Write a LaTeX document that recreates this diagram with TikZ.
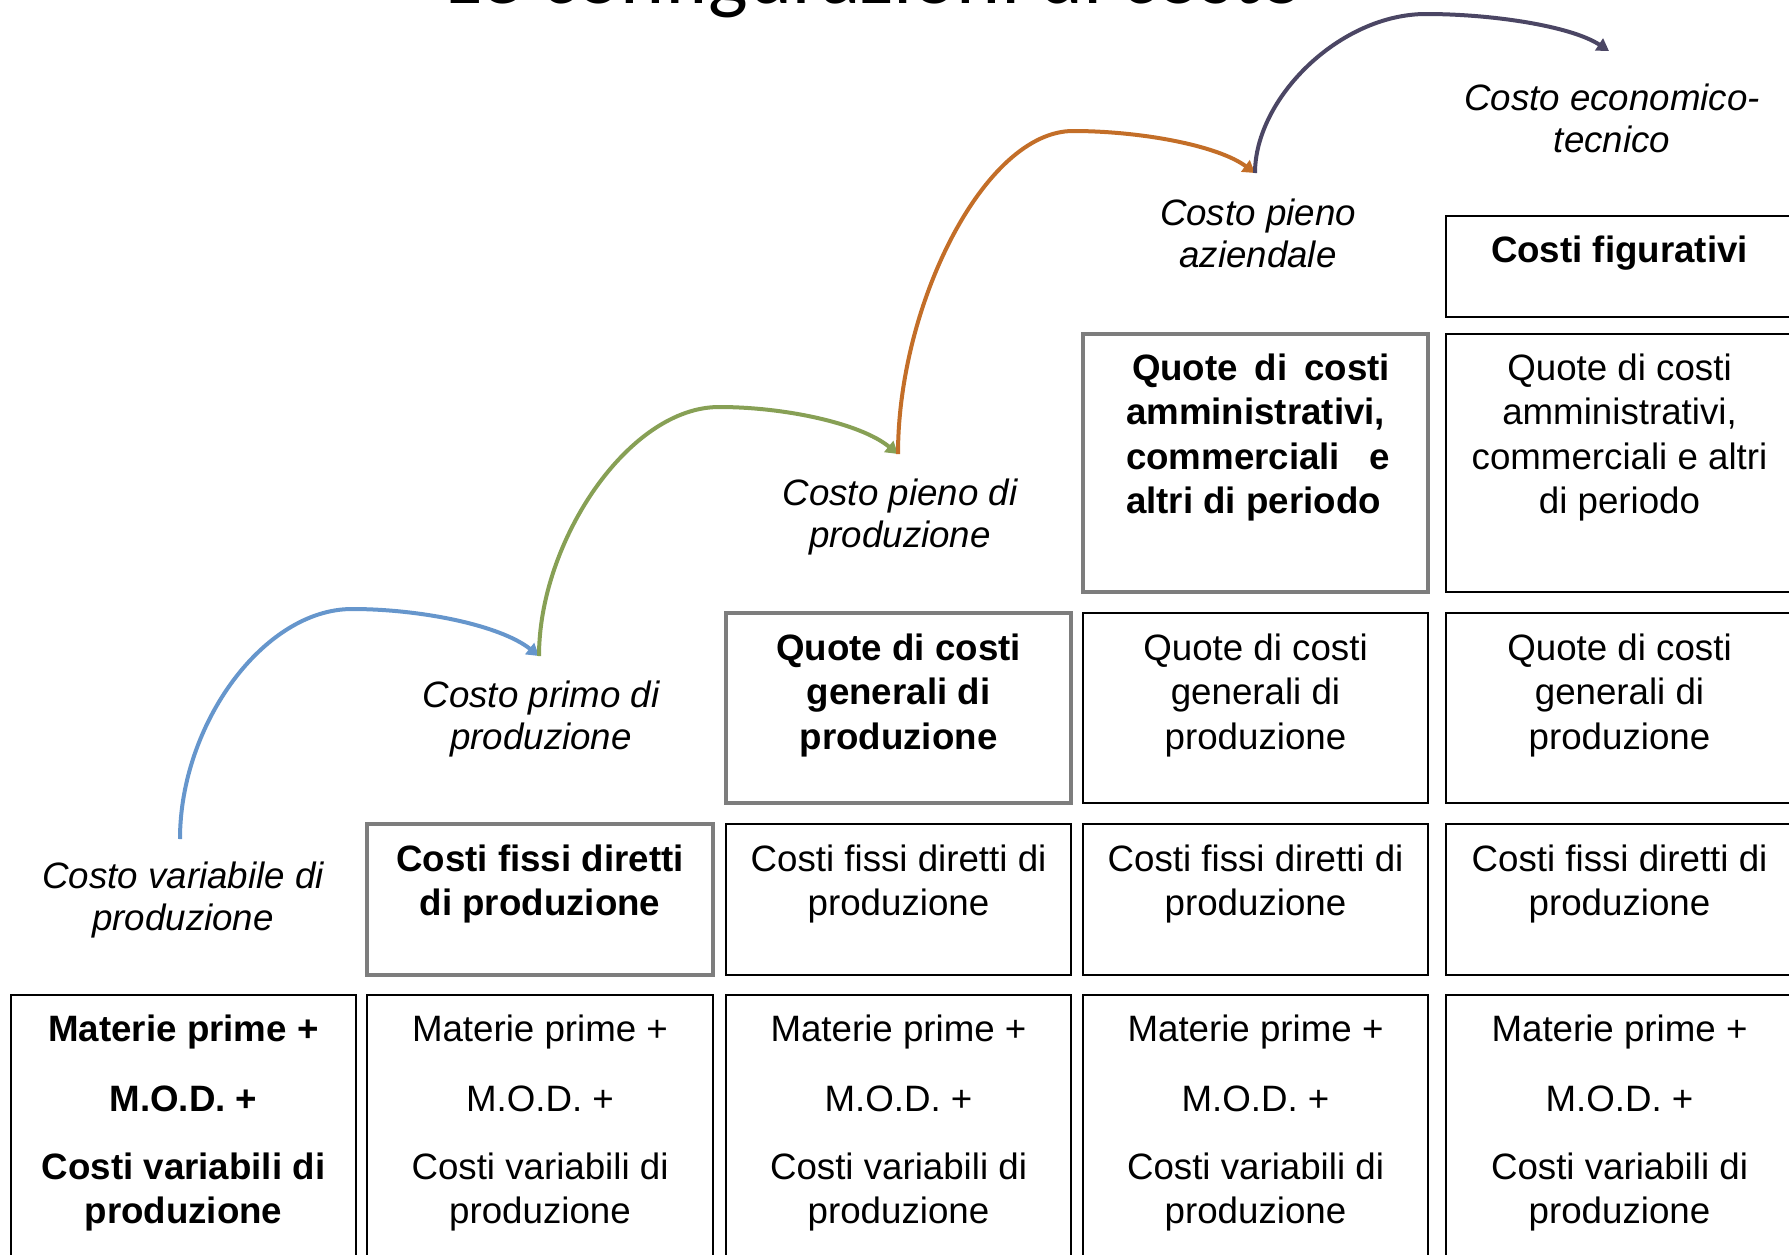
\documentclass[tikz,border=0pt]{standalone}
\usepackage{fontspec}
\setmainfont{Liberation Sans}
\newfontfamily\titlefont{Carlito}
\usetikzlibrary{arrows.meta}

\definecolor{stepblue}{RGB}{102,150,204}
\definecolor{stepgreen}{RGB}{135,160,85}
\definecolor{steporange}{RGB}{195,110,40}
\definecolor{steppurple}{RGB}{75,70,100}
\definecolor{newedge}{RGB}{125,125,125}

\tikzset{
  cell/.style={draw=black, line width=1.2pt, inner sep=0pt, outer sep=0pt},
  newcell/.style={draw=newedge, line width=1.6pt, inner sep=0pt, outer sep=0pt},
  celltext/.style={anchor=north, inner sep=0pt, align=center,
    font=\fontsize{18.35}{22.3}\selectfont},
  boldtext/.style={celltext, font=\fontsize{18.35}{22.3}\selectfont\bfseries},
  stagetext/.style={anchor=north, inner sep=0pt, align=center,
    font=\fontsize{18.35}{21}\selectfont\itshape},
  flow/.style={line width=2pt, -{Triangle[length=6pt,width=7pt]}},
}

% a framed cell given by its corners (x1,y1) and (x2,y2), in picture units
\newcommand\costcell[6]{%
  \pgfmathsetmacro\cellw{(#4-#2)*0.5}%
  \pgfmathsetmacro\cellh{(#5-#3)*0.5}%
  \node[#6, minimum width=\cellw pt, minimum height=\cellh pt]
    (#1) at ({(#2+#4)/2},{(#3+#5)/2}) {};}

\newcommand\matlines{Materie prime +\\[12.7pt]M.O.D. +\\[11.7pt]Costi variabili di\\produzione}

\begin{document}
\begin{tikzpicture}[x=0.5pt,y=-0.5pt]
\useasboundingbox (0,0) rectangle (1789,1254);
\clip (0,0) rectangle (1789,1254);

% title
\node[anchor=base, inner sep=0pt, font=\titlefont\fontsize{42}{50}\selectfont]
  (title) at (875,3) {Le configurazioni di costo};

% bottom row
\costcell{r1c1}{11}{995}{356}{1275}{cell}
\costcell{r1c2}{367}{995}{713}{1275}{cell}
\costcell{r1c3}{726}{995}{1071}{1275}{cell}
\costcell{r1c4}{1083}{995}{1428}{1275}{cell}
\costcell{r1c5}{1446}{995}{1793}{1275}{cell}
% fixed direct costs
\costcell{r2c2}{367}{824}{713}{975}{newcell}
\costcell{r2c3}{726}{824}{1071}{975}{cell}
\costcell{r2c4}{1083}{824}{1428}{975}{cell}
\costcell{r2c5}{1446}{824}{1793}{975}{cell}
% general production overheads
\costcell{r3c3}{726}{613}{1071}{803}{newcell}
\costcell{r3c4}{1083}{613}{1428}{803}{cell}
\costcell{r3c5}{1446}{613}{1793}{803}{cell}
% period costs
\costcell{r4c4}{1083}{334}{1428}{592}{newcell}
\costcell{r4c5}{1446}{334}{1793}{592}{cell}
% imputed costs
\costcell{r5c5}{1446}{216}{1793}{317}{cell}

% cell texts
\node[boldtext] (t11) at (183.5,1014) {\matlines};
\node[celltext] (t12) at (540,1014) {\matlines};
\node[celltext] (t13) at (898.5,1014) {\matlines};
\node[celltext] (t14) at (1255.5,1014) {\matlines};
\node[celltext] (t15) at (1619.5,1014) {\matlines};

\node[boldtext] (t22) at (540,844) {Costi fissi diretti\\di produzione};
\node[celltext] (t23) at (898.5,844) {Costi fissi diretti di\\produzione};
\node[celltext] (t24) at (1255.5,844) {Costi fissi diretti di\\produzione};
\node[celltext] (t25) at (1619.5,844) {Costi fissi diretti di\\produzione};

\node[boldtext] (t33) at (898.5,633) {Quote di costi\\generali di\\produzione};
\node[celltext] (t34) at (1255.5,633) {Quote di costi\\generali di\\produzione};
\node[celltext] (t35) at (1619.5,633) {Quote di costi\\generali di\\produzione};

\node[boldtext, text width=132pt, align=justify] (t44) at (1258,353)
  {\hspace*{3pt}Quote di costi\linebreak amministrativi,\linebreak commerciali e\linebreak altri di periodo};
\node[celltext] (t45) at (1619.5,353) {Quote di costi\\amministrativi,\\commerciali e altri\\di periodo};

\node[boldtext] (t55) at (1619.5,235) {Costi figurativi};

% stage labels
\node[stagetext] (s1) at (183,861) {Costo variabile di\\produzione};
\node[stagetext] (s2) at (541,680) {Costo primo di\\produzione};
\node[stagetext] (s3) at (900,478) {Costo pieno di\\produzione};
\node[stagetext] (s4) at (1258,198) {Costo pieno\\aziendale};
\node[stagetext] (s5) at (1612,84) {Costo economico-\\tecnico};

% arrow ends and crests
\coordinate (a1) at (180,839);
\coordinate (a2) at (539,656);
\coordinate (a3) at (898,454);
\coordinate (a4) at (1255,173);
\coordinate (a5) at (1609,51);
\coordinate (k1) at (352,609);
\coordinate (k2) at (719,407);
\coordinate (k3) at (1073,131);
\coordinate (k4) at (1426,14);

% stepping arrows
\draw[flow, stepblue] (a1) .. controls +(0,-115) and +(-88,0) .. (k1)
  .. controls +(68,0) and +(-39,-31) .. (a2);
\draw[flow, stepgreen] (a2) .. controls +(0,-115) and +(-90,0) .. (k2)
  .. controls +(65,0) and +(-38,-31) .. (a3);
\draw[flow, steporange] (a3) .. controls +(0,-150) and +(-88,0) .. (k3)
  .. controls +(66,0) and +(-38,-28) .. (a4);
\draw[flow, steppurple] (a4) .. controls +(0,-75) and +(-86,0) .. (k4)
  .. controls +(66,0) and +(-38,-25) .. (a5);
\end{tikzpicture}
\end{document}
